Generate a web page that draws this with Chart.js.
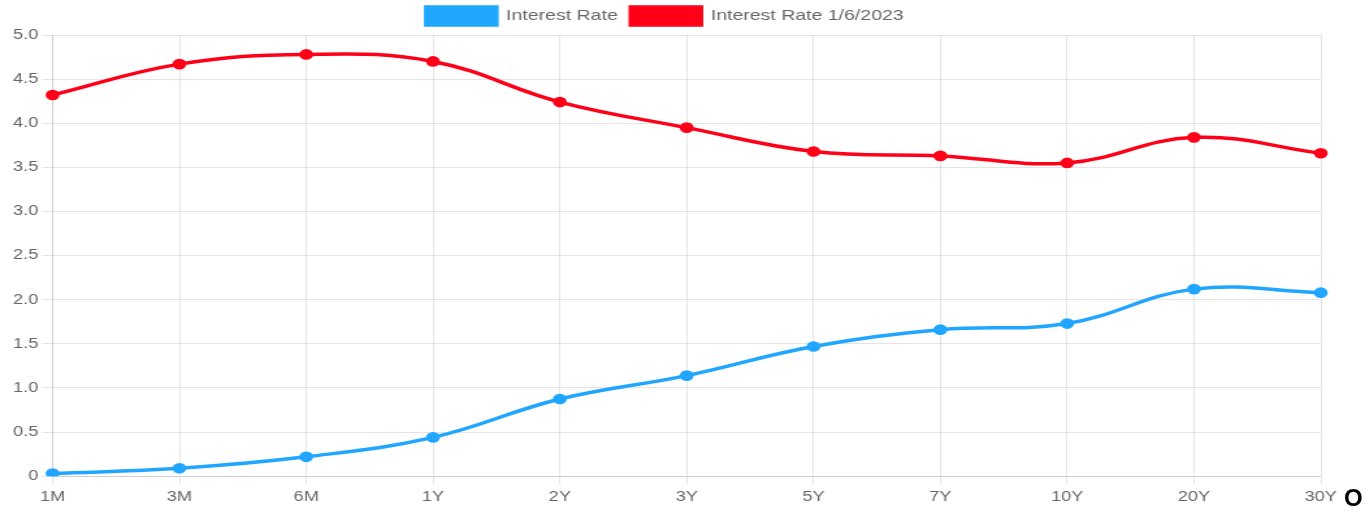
<!DOCTYPE html>
<html>
<head>
<meta charset="utf-8">
<script src="https://cdn.jsdelivr.net/npm/chart.js@4"></script>
<style>
  html, body { margin: 0; padding: 0; background: #fff; overflow: hidden; }
  #wrap { position: absolute; left: 0; top: -6px; width: 1054px; height: 518px;
          transform: scaleX(1.3); transform-origin: 0 0; }
  #mark { position: absolute; left: 1344px; top: 484px; font: bold 24px "Liberation Sans", Arial, sans-serif; color: #000; }
</style>
</head>
<body>
<div id="wrap"><canvas id="myChart" width="1054" height="518"></canvas></div>
<div id="mark">O</div>
<script>
  // Maturities on the x axis
  const labels = ['1M', '3M', '6M', '1Y', '2Y', '3Y', '5Y', '7Y', '10Y', '20Y', '30Y'];

  // Rates
  const rateOld = [0.03, 0.09, 0.22, 0.44, 0.875, 1.14, 1.47, 1.66, 1.73, 2.12, 2.08];
  const rateNew = [4.32, 4.67, 4.78, 4.70, 4.24, 3.95, 3.68, 3.63, 3.55, 3.84, 3.66];

  const yTicks = [0, 0.5, 1, 1.5, 2, 2.5, 3, 3.5, 4, 4.5, 5];

  const blue = 'rgb(33,166,255)';
  const red = 'rgb(255,0,25)';

  Chart.defaults.font.family = '"Liberation Sans", Arial, sans-serif';
  Chart.defaults.font.size = 14;
  Chart.defaults.color = '#666';

  const data = {
    labels: labels,
    datasets: [{
      label: 'Interest Rate',
      data: rateOld,
      borderColor: blue,
      backgroundColor: blue,
      pointBackgroundColor: blue,
      borderWidth: 3.5,
      pointRadius: 3.6,
      tension: 0.4,
      fill: false
    }, {
      label: 'Interest Rate 1/6/2023',
      data: rateNew,
      borderColor: red,
      backgroundColor: red,
      pointBackgroundColor: red,
      borderWidth: 3.5,
      pointRadius: 3.6,
      tension: 0.4,
      fill: false
    }]
  };

  const config = {
    type: 'line',
    data: data,
    options: {
      responsive: false,
      animation: false,
      layout: { padding: { left: 7, right: 38, top: 3, bottom: 1 } },
      plugins: {
        legend: {
          labels: { boxWidth: 54, boxHeight: 18, padding: 10, font: { size: 15 } }
        },
        tooltip: { enabled: false }
      },
      scales: {
        x: {
          grid: { color: 'rgba(0,0,0,0.1)' },
          ticks: { padding: 5, maxRotation: 0 }
        },
        y: {
          min: 0,
          max: 5,
          afterBuildTicks: function (axis) {
            axis.ticks = yTicks.map(function (v) { return { value: v }; });
          },
          ticks: {
            callback: function (v) { return v === 0 ? '0' : v.toFixed(1); }
          },
          grid: { color: 'rgba(0,0,0,0.1)' }
        }
      }
    }
  };

  const myChart = new Chart(document.getElementById('myChart'), config);
</script>
</body>
</html>
